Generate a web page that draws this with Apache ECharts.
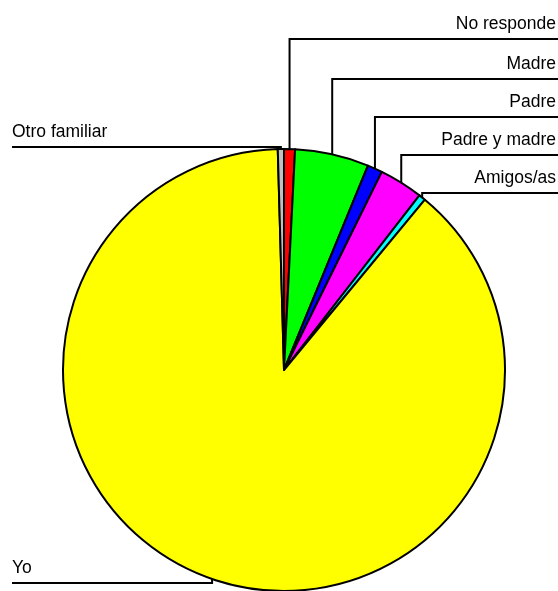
<!DOCTYPE html>
<html>
<head>
<meta charset="utf-8">
<script src="https://cdn.jsdelivr.net/npm/echarts@6/dist/echarts.min.js"></script>
<style>
  html, body { margin: 0; padding: 0; background: #fff; }
  #chart { width: 558px; height: 591px; }
</style>
</head>
<body>
<div id="chart"></div>
<script>
// Data (percentages), clockwise from 12 o'clock
var categories = ['No responde', 'Madre', 'Padre', 'Padre y madre', 'Amigos/as', 'Yo', 'Otro familiar'];
var values = [0.8, 5.4, 1.1, 3.2, 0.5, 88.55, 0.45];
var colors = ['#FF0000', '#00FF00', '#0000FF', '#FF00FF', '#00FFFF', '#FFFF00', '#C0C0C0'];

// Label layout (positions only)
var labelSide = ['right', 'right', 'right', 'right', 'right', 'left', 'left'];
var labelLineY = [39, 79, 117, 155, 193, 583, 147];

var W = 558;
var CX = 284, CY = 370, R = 221;

var chart = echarts.init(document.getElementById('chart'), null, { renderer: 'canvas' });

var data = categories.map(function (c, i) {
  return { name: c, value: values[i], itemStyle: { color: colors[i] } };
});

chart.setOption({
  animation: false,
  series: [{
    type: 'pie',
    center: [CX, CY],
    radius: [0, R],
    startAngle: 90,
    clockwise: true,
    avoidLabelOverlap: false,
    minShowLabelAngle: 0,
    data: data,
    itemStyle: { borderColor: '#000', borderWidth: 2 },
    emphasis: { disabled: true },
    label: {
      show: true,
      position: 'outside',
      formatter: '{b}',
      color: '#000',
      fontFamily: 'Liberation Sans, Arial, sans-serif',
      fontSize: 17.5
    },
    labelLine: {
      show: true,
      length: 10,
      length2: 10,
      lineStyle: { color: '#000', width: 2 }
    },
    labelLayout: function (params) {
      var i = params.dataIndex;
      var p0;
      if (params.labelLinePoints && params.labelLinePoints[0]) {
        p0 = params.labelLinePoints[0];
      } else {
        p0 = [CX, CY - R];
      }
      var ly = labelLineY[i];
      if (labelSide[i] === 'right') {
        return {
          x: W - 2,
          y: ly - 15,
          align: 'right',
          verticalAlign: 'middle',
          labelLinePoints: [[p0[0], p0[1]], [p0[0], ly], [W, ly]]
        };
      } else {
        return {
          x: 12,
          y: ly - 15,
          align: 'left',
          verticalAlign: 'middle',
          labelLinePoints: [[p0[0], p0[1]], [p0[0], ly], [12, ly]]
        };
      }
    }
  }]
});
</script>
</body>
</html>
